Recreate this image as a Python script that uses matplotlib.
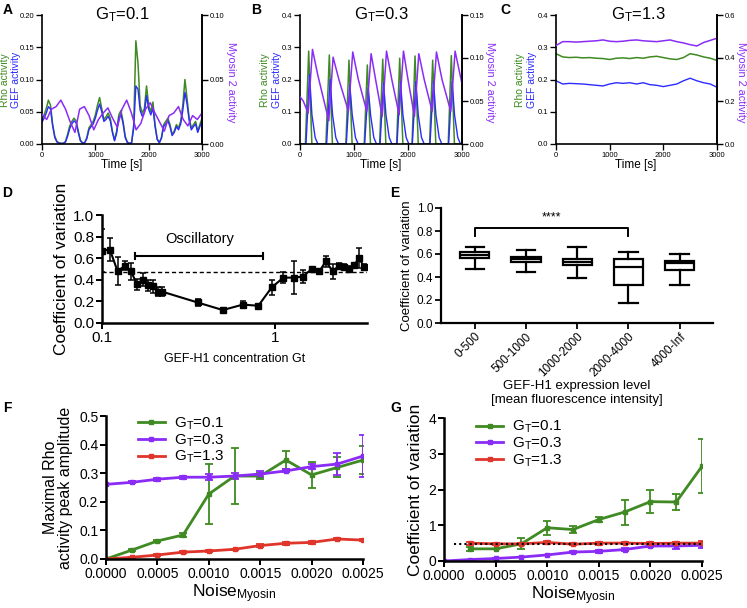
import numpy as np
import matplotlib
matplotlib.use("Agg")
import matplotlib.pyplot as plt

plt.rcParams['font.family'] = ['Liberation Sans', 'DejaVu Sans']
plt.rcParams['mathtext.fontset'] = 'custom'
plt.rcParams['mathtext.rm'] = 'Liberation Sans'
plt.rcParams['mathtext.it'] = 'Liberation Sans'

GREEN = '#3f8a22'
BLUE = '#2b2bff'
PURPLE = '#8a2cf5'
RED = '#e0352b'

# ---- A: G_T = 0.1 (time series) ----
rho_a = [0.038, 0.045, 0.055, 0.068, 0.060, 0.030, 0.012, 0.004, 0.002, 0.001,
         0.001, 0.004, 0.015, 0.028, 0.035, 0.040, 0.036, 0.020, 0.006, 0.002,
         0.002, 0.010, 0.025, 0.030, 0.035, 0.045, 0.060, 0.072, 0.055, 0.038,
         0.042, 0.048, 0.040, 0.020, 0.006, 0.020, 0.045, 0.052, 0.035, 0.012,
         0.003, 0.001, 0.002, 0.030, 0.160, 0.125, 0.060, 0.048, 0.055, 0.090,
         0.060, 0.050, 0.065, 0.030, 0.008, 0.002, 0.010, 0.030, 0.035, 0.040,
         0.030, 0.015, 0.020, 0.030, 0.025, 0.035, 0.060, 0.100, 0.070, 0.040,
         0.025, 0.030, 0.035, 0.020, 0.030, 0.040]
gef_a = [0.034, 0.040, 0.048, 0.058, 0.054, 0.028, 0.010, 0.003, 0.001, 0.001,
         0.001, 0.003, 0.012, 0.024, 0.031, 0.036, 0.033, 0.018, 0.005, 0.001,
         0.002, 0.008, 0.022, 0.027, 0.031, 0.040, 0.052, 0.062, 0.050, 0.035,
         0.038, 0.043, 0.036, 0.018, 0.005, 0.017, 0.040, 0.046, 0.032, 0.010,
         0.002, 0.001, 0.002, 0.025, 0.090, 0.085, 0.052, 0.043, 0.049, 0.075,
         0.054, 0.045, 0.056, 0.027, 0.007, 0.002, 0.009, 0.027, 0.031, 0.036,
         0.027, 0.013, 0.018, 0.027, 0.022, 0.031, 0.052, 0.080, 0.062, 0.036,
         0.022, 0.027, 0.031, 0.018, 0.027, 0.036]
myo_a = [0.023, 0.019, 0.027, 0.029, 0.034, 0.027, 0.017, 0.009, 0.027, 0.029,
         0.022, 0.011, 0.019, 0.024, 0.028, 0.020, 0.013, 0.027, 0.034, 0.024,
         0.011, 0.016, 0.027, 0.032, 0.024, 0.017, 0.010, 0.022, 0.024, 0.029,
         0.019, 0.014, 0.022, 0.019, 0.024]

# ---- B: G_T = 0.3 ----
rho_b_t = [0, 100, 161, 220, 480, 543, 600, 850, 907, 965, 1190, 1247, 1305,
           1475, 1532, 1590, 1790, 1846, 1905, 2075, 2130, 2190, 2400, 2457,
           2515, 2745, 2802, 2860, 3000]
rho_b = [0, 0, 0.288, 0, 0, 0.276, 0, 0, 0.260, 0, 0, 0.245, 0, 0, 0.263, 0,
         0, 0.266, 0, 0, 0.273, 0, 0, 0.260, 0, 0, 0.274, 0, 0]
gef_b_t = [0, 111, 176, 221, 281, 331, 493, 558, 603, 663, 713,
           857, 922, 967, 1027, 1077, 1197, 1262, 1307, 1367, 1417,
           1482, 1547, 1592, 1652, 1702, 1796, 1861, 1906, 1966, 2016,
           2080, 2145, 2190, 2250, 2300, 2407, 2472, 2517, 2577, 2627,
           2752, 2817, 2862, 2922, 2972, 3000]
gef_b = [0, 0, 0.215, 0.09, 0.02, 0, 0, 0.200, 0.09, 0.02, 0,
         0, 0.184, 0.09, 0.02, 0, 0, 0.174, 0.09, 0.02, 0,
         0, 0.190, 0.09, 0.02, 0, 0, 0.194, 0.09, 0.02, 0,
         0, 0.194, 0.09, 0.02, 0, 0, 0.194, 0.09, 0.02, 0,
         0, 0.194, 0.09, 0.02, 0, 0]
myo_b_t = [0, 60, 151, 231, 330, 533, 613, 720, 897, 977, 1080, 1237, 1317,
           1400, 1522, 1602, 1700, 1836, 1916, 2000, 2120, 2200, 2300, 2447,
           2527, 2630, 2792, 2872, 3000]
myo_b = [0.055, 0.050, 0.036, 0.110, 0.080, 0.027, 0.101, 0.075, 0.038, 0.107,
         0.075, 0.038, 0.105, 0.075, 0.032, 0.108, 0.075, 0.034, 0.108, 0.075,
         0.032, 0.105, 0.075, 0.038, 0.107, 0.075, 0.038, 0.108, 0.070]

# ---- C: G_T = 1.3 ----
rho_c = [0.280, 0.270, 0.268, 0.269, 0.267, 0.268, 0.266, 0.265, 0.262, 0.266,
         0.267, 0.265, 0.268, 0.266, 0.270, 0.272, 0.268, 0.264, 0.262, 0.268,
         0.280, 0.276, 0.270, 0.266, 0.259]
gef_c = [0.196, 0.186, 0.188, 0.187, 0.186, 0.184, 0.182, 0.180, 0.186, 0.190,
         0.188, 0.190, 0.186, 0.190, 0.184, 0.182, 0.178, 0.182, 0.186, 0.196,
         0.204, 0.196, 0.190, 0.186, 0.176]
myo_c = [0.458, 0.476, 0.476, 0.474, 0.476, 0.478, 0.480, 0.484, 0.478, 0.476,
         0.478, 0.482, 0.484, 0.480, 0.478, 0.476, 0.480, 0.484, 0.476, 0.470,
         0.462, 0.456, 0.472, 0.482, 0.492]

# ---- D: CV vs GEF-H1 concentration ----
gt_d = [0.100, 0.111, 0.123, 0.136, 0.147, 0.159, 0.172, 0.184, 0.196, 0.212,
        0.223, 0.357, 0.499, 0.651, 0.801, 0.957, 1.117, 1.288, 1.446, 1.631,
        1.804, 1.965, 2.156, 2.345, 2.506, 2.688, 2.873, 3.06, 3.27]
cv_d = [0.67, 0.68, 0.48, 0.53, 0.48, 0.36, 0.40, 0.35, 0.34, 0.29,
        0.29, 0.19, 0.12, 0.17, 0.16, 0.33, 0.42, 0.42, 0.43, 0.50,
        0.48, 0.57, 0.48, 0.53, 0.52, 0.50, 0.54, 0.60, 0.52]
err_d = [0.20, 0.11, 0.13, 0.04, 0.08, 0.05, 0.06, 0.05, 0.06, 0.04,
         0.04, 0.03, 0.02, 0.03, 0.02, 0.07, 0.05, 0.15, 0.06, 0.01,
         0.01, 0.05, 0.07, 0.03, 0.03, 0.03, 0.02, 0.09, 0.03]
cv_threshold = 0.47

# ---- E: experimental CV by expression level ----
e_labels = ['0-500', '500-1000', '1000-2000', '2000-4000', '4000-Inf']
e_whislo = [0.47, 0.445, 0.387, 0.17, 0.333]
e_q1 = [0.563, 0.533, 0.505, 0.33, 0.457]
e_med = [0.592, 0.555, 0.533, 0.49, 0.52]
e_q3 = [0.615, 0.577, 0.557, 0.557, 0.543]
e_whishi = [0.664, 0.635, 0.658, 0.62, 0.597]

# ---- F / G: noise scans ----
noise = [0.0, 0.00025, 0.0005, 0.00075, 0.001, 0.00125, 0.0015, 0.00175,
         0.002, 0.00225, 0.0025]
amp_01 = [0.0, 0.031, 0.063, 0.084, 0.227, 0.29, 0.29, 0.346, 0.294, 0.32, 0.346]
amp_01_err = [0.0, 0.004, 0.005, 0.006, 0.105, 0.097, 0.012, 0.03, 0.045, 0.035, 0.05]
amp_03 = [0.261, 0.268, 0.279, 0.286, 0.286, 0.29, 0.297, 0.308, 0.323, 0.332, 0.36]
amp_03_err = [0.0, 0.004, 0.005, 0.005, 0.01, 0.01, 0.01, 0.005, 0.01, 0.04, 0.075]
amp_13 = [0.0, 0.006, 0.014, 0.024, 0.028, 0.034, 0.047, 0.055, 0.058, 0.07, 0.066]
amp_13_err = [0.0, 0.002, 0.002, 0.003, 0.002, 0.002, 0.005, 0.006, 0.005, 0.005, 0.004]

noise_g = [0.00025, 0.0005, 0.00075, 0.001, 0.00125, 0.0015, 0.00175, 0.002,
           0.00225, 0.0025]
cvg_01 = [0.34, 0.34, 0.48, 0.93, 0.88, 1.16, 1.37, 1.66, 1.65, 2.65]
cvg_01_err = [0.06, 0.0, 0.15, 0.2, 0.1, 0.06, 0.35, 0.32, 0.22, 0.75]
cvg_03 = [0.0, 0.04, 0.07, 0.11, 0.17, 0.25, 0.27, 0.32, 0.42, 0.42, 0.44]
cvg_03_err = [0.0, 0.0, 0.0, 0.0, 0.01, 0.02, 0.04, 0.04, 0.04, 0.08, 0.07]
cvg_13 = [0.50, 0.48, 0.48, 0.52, 0.47, 0.50, 0.50, 0.49, 0.50, 0.50]
cvg_13_err = [0.04, 0.03, 0.03, 0.04, 0.03, 0.04, 0.03, 0.03, 0.04, 0.05]

W, H = 747, 608
fig = plt.figure(figsize=(W / 100, H / 100), dpi=100)


def rect(x0, y0, x1, y1):
    return [x0 / W, 1 - y1 / H, (x1 - x0) / W, (y1 - y0) / H]


def ftext(x, y, s, **kw):
    fig.text(x / W, 1 - y / H, s, **kw)


def style(ax, lw=1.6, fs=10, right=False):
    for s in ['top', 'right']:
        ax.spines[s].set_visible(False)
    if right:
        ax.spines['right'].set_visible(True)
    for s in ['left', 'bottom', 'right']:
        ax.spines[s].set_linewidth(lw)
    ax.tick_params(direction='out', width=lw * 0.8, length=4, labelsize=fs, pad=1.5)


# ---- time series panels ----
ts_panels = [
    (rect(42, 15, 202, 144), np.linspace(0, 3000, len(rho_a)), rho_a,
     np.linspace(0, 3000, len(gef_a)), gef_a, np.linspace(0, 3000, len(myo_a)), myo_a,
     0.20, [0, 0.05, 0.10, 0.15, 0.20], '%.2f', 0.10, [0, 0.05, 0.10], '%.2f'),
    (rect(300, 15, 462, 144), rho_b_t, rho_b, gef_b_t, gef_b, myo_b_t, myo_b,
     0.4, [0, 0.1, 0.2, 0.3, 0.4], '%.1f', 0.15, [0, 0.05, 0.10, 0.15], '%.2f'),
    (rect(556, 15, 717, 144), np.linspace(0, 3000, len(rho_c)), rho_c,
     np.linspace(0, 3000, len(gef_c)), gef_c, np.linspace(0, 3000, len(myo_c)), myo_c,
     0.4, [0, 0.1, 0.2, 0.3, 0.4], '%.1f', 0.6, [0, 0.2, 0.4, 0.6], '%.1f'),
]
for (r, tr, yr, tg, yg, tm, ym, ymax, yt, yfmt, ymax2, yt2, yfmt2) in ts_panels:
    ax = fig.add_axes(r)
    ax.plot(tr, yr, color=GREEN, lw=1.1)
    ax.plot(tg, yg, color=BLUE, lw=1.0)
    ax.set_xlim(0, 3000)
    ax.set_ylim(0, ymax)
    ax.set_yticks(yt)
    ax.set_yticklabels([yfmt % v for v in yt])
    ax.set_xticks([0, 1000, 2000, 3000])
    style(ax, lw=1.2, fs=5.5, right=True)
    ax2 = ax.twinx()
    ax2.plot(tm, ym, color=PURPLE, lw=1.1)
    ax2.set_ylim(0, ymax2)
    ax2.set_yticks(yt2)
    ax2.set_yticklabels([yfmt2 % v for v in yt2])
    for s in ['top', 'left', 'bottom']:
        ax2.spines[s].set_visible(False)
    ax2.spines['right'].set_linewidth(1.2)
    ax2.tick_params(direction='out', width=1, length=4, labelsize=5.5, pad=1.5)

ftext(122, 15, r'$\mathregular{G_T}$=0.1', fontsize=12, ha='center', va='center')
ftext(381, 15, r'$\mathregular{G_T}$=0.3', fontsize=12, ha='center', va='center')
ftext(638, 15, r'$\mathregular{G_T}$=1.3', fontsize=12, ha='center', va='center')
for xr, xg, xm in [(5.2, 15.6, 231), (265, 277, 490), (520, 532, 741)]:
    ftext(xr, 80, 'Rho activity', color=GREEN, fontsize=7.5, rotation=90, ha='center', va='center')
    ftext(xg, 80, 'GEF activity', color=BLUE, fontsize=7.5, rotation=90, ha='center', va='center')
    ftext(xm, 82, 'Myosin 2 activity', color=PURPLE, fontsize=7.8, rotation=270, ha='center', va='center')
for xc in [122, 381, 636]:
    ftext(xc, 165, 'Time [s]', fontsize=8.5, ha='center', va='center')

# ---- D ----
axd = fig.add_axes(rect(102, 215, 367, 323))
axd.errorbar(gt_d, cv_d, yerr=err_d, color='black', lw=1.5, marker='s', ms=4,
             capsize=2.5, elinewidth=1.1, capthick=1.1)
axd.axhline(cv_threshold, color='black', lw=1, ls=(0, (3, 2)))
axd.set_xscale('log')
axd.set_xlim(0.1, 3.4)
axd.set_ylim(0, 1.0)
axd.set_yticks([0, 0.2, 0.4, 0.6, 0.8, 1.0])
axd.set_yticklabels(['0.0', '0.2', '0.4', '0.6', '0.8', '1.0'])
axd.set_xticks([0.1, 1])
axd.set_xticklabels(['0.1', '1'])
axd.xaxis.set_minor_locator(matplotlib.ticker.NullLocator())
style(axd, lw=1.8, fs=11)
axd.plot([0.155, 0.852], [0.62, 0.62], color='black', lw=1.5)
axd.plot([0.155, 0.155], [0.59, 0.65], color='black', lw=1.5)
axd.plot([0.852, 0.852], [0.59, 0.65], color='black', lw=1.5)
axd.text(0.365, 0.78, 'Oscillatory', ha='center', va='center', fontsize=10.5)
axd.set_ylabel('Coefficient of variation', fontsize=12.5, labelpad=3)
axd.set_xlabel('GEF-H1 concentration Gt', fontsize=9, labelpad=6)

# ---- E ----
axe = fig.add_axes(rect(441, 208, 713, 323))
stats = [dict(med=e_med[i], q1=e_q1[i], q3=e_q3[i], whislo=e_whislo[i],
              whishi=e_whishi[i], fliers=[]) for i in range(len(e_labels))]
axe.bxp(stats, positions=range(len(e_labels)), widths=0.57, showfliers=False,
        patch_artist=True,
        boxprops=dict(facecolor='white', edgecolor='black', lw=1.6),
        medianprops=dict(color='black', lw=1.6),
        whiskerprops=dict(color='black', lw=1.6),
        capprops=dict(color='black', lw=1.6), capwidths=0.36)
axe.set_xlim(-0.66, 4.65)
axe.set_ylim(0, 1.0)
axe.set_yticks([0, 0.2, 0.4, 0.6, 0.8, 1.0])
axe.set_yticklabels(['0.0', '0.2', '0.4', '0.6', '0.8', '1.0'])
axe.set_xticks(range(len(e_labels)))
axe.set_xticklabels(e_labels, rotation=45, ha='right', rotation_mode='anchor')
style(axe, lw=1.6, fs=8.5)
axe.plot([0, 0, 3, 3], [0.76, 0.826, 0.826, 0.76], color='black', lw=1.4)
axe.text(1.5, 0.92, '****', ha='center', va='center', fontsize=9)
axe.set_ylabel('Coefficient of variation', fontsize=9.5, labelpad=3)
ftext(577, 386, 'GEF-H1 expression level', fontsize=9.5, ha='center', va='center')
ftext(577, 400, '[mean fluorescence intensity]', fontsize=9.5, ha='center', va='center')

# ---- F ----
axf = fig.add_axes(rect(106, 416, 363, 559))
ekw = dict(lw=2, marker='s', ms=3, capsize=3, elinewidth=1.3, capthick=1.3)
axf.errorbar(noise, amp_01, yerr=amp_01_err, color=GREEN, label=r'$\mathregular{G_T}$=0.1', **ekw)
axf.errorbar(noise, amp_03, yerr=amp_03_err, color=PURPLE, label=r'$\mathregular{G_T}$=0.3', **ekw)
axf.errorbar(noise, amp_13, yerr=amp_13_err, color=RED, label=r'$\mathregular{G_T}$=1.3', **ekw)
axf.set_xlim(0, 0.0025)
axf.set_ylim(0, 0.5)
axf.set_xticks([0, 0.0005, 0.001, 0.0015, 0.002, 0.0025])
axf.set_xticklabels(['0.0000', '0.0005', '0.0010', '0.0015', '0.0020', '0.0025'])
axf.set_yticks([0, 0.1, 0.2, 0.3, 0.4, 0.5])
axf.set_yticklabels(['0.0', '0.1', '0.2', '0.3', '0.4', '0.5'])
style(axf, lw=1.8, fs=10)
axf.set_ylabel('Maximal Rho\nactivity peak amplitude', fontsize=11.5, labelpad=4, linespacing=1.0)
axf.set_xlabel(r'Noise$\mathregular{_{Myosin}}$', fontsize=12.5, labelpad=1)
hf, lf = axf.get_legend_handles_labels()
axf.legend([h[0] for h in hf], lf, loc='upper left', bbox_to_anchor=(0.07, 1.1),
           frameon=False, fontsize=11, handlelength=1.8, labelspacing=0.02,
           handletextpad=0.6)

# ---- G ----
axg = fig.add_axes(rect(444, 418, 702, 561))
axg.plot([0.0001, 0.0025], [cv_threshold, cv_threshold], color='black', lw=1.5,
         ls=(0, (1, 1.5)), zorder=5)
axg.errorbar(noise_g, cvg_01, yerr=cvg_01_err, color=GREEN, label=r'$\mathregular{G_T}$=0.1', **ekw)
axg.errorbar(noise, cvg_03, yerr=cvg_03_err, color=PURPLE, label=r'$\mathregular{G_T}$=0.3', **ekw)
axg.errorbar(noise_g, cvg_13, yerr=cvg_13_err, color=RED, label=r'$\mathregular{G_T}$=1.3', **ekw)
axg.set_xlim(0, 0.0025)
axg.set_ylim(0, 4)
axg.set_xticks([0, 0.0005, 0.001, 0.0015, 0.002, 0.0025])
axg.set_xticklabels(['0.0000', '0.0005', '0.0010', '0.0015', '0.0020', '0.0025'])
axg.set_yticks([0, 1, 2, 3, 4])
style(axg, lw=1.8, fs=10)
axg.set_ylabel('Coefficient of variation', fontsize=12.5, labelpad=4)
axg.set_xlabel(r'Noise$\mathregular{_{Myosin}}$', fontsize=12.5, labelpad=1)
hg, lg = axg.get_legend_handles_labels()
axg.legend([h[0] for h in hg], lg, loc='upper left', bbox_to_anchor=(0.07, 1.09),
           frameon=False, fontsize=11, handlelength=1.8, labelspacing=0.02,
           handletextpad=0.6)

# panel letters
for letter, x, y in [('A', 8, 10), ('B', 256, 10), ('C', 505, 10), ('D', 7, 193),
                     ('E', 395, 193), ('F', 7, 408), ('G', 396, 408)]:
    ftext(x, y, letter, fontsize=10, fontweight='bold', ha='center', va='center')

fig.savefig('out.png', dpi=100)
